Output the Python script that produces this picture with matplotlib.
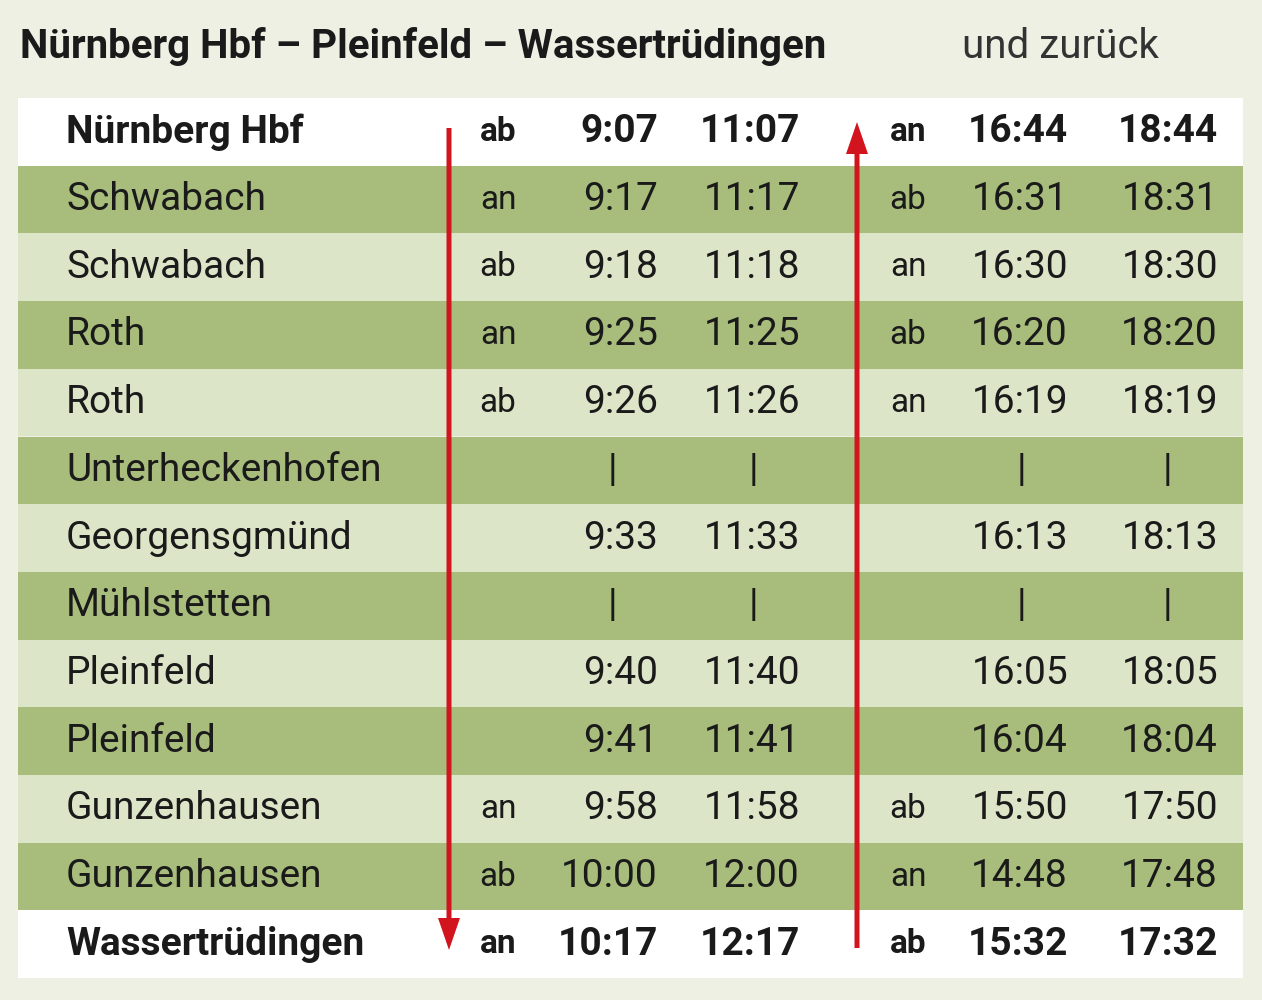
import matplotlib
matplotlib.use("Agg")
import matplotlib.pyplot as plt
from matplotlib.patches import Rectangle, FancyArrow

plt.rcParams["font.family"] = ["Roboto", "DejaVu Sans"]

BG = "#eef0e4"
DARK = "#a8bd7c"
LIGHT = "#dde5c8"
RED = "#d2141e"
TEXT = "#1a1a1a"

stations = ["Nürnberg Hbf", "Schwabach", "Schwabach", "Roth", "Roth",
            "Unterheckenhofen", "Georgensgmünd", "Mühlstetten", "Pleinfeld",
            "Pleinfeld", "Gunzenhausen", "Gunzenhausen", "Wassertrüdingen"]
dir_out = ["ab", "an", "ab", "an", "ab", "", "", "", "", "", "an", "ab", "an"]
train1 = ["9:07", "9:17", "9:18", "9:25", "9:26", "|", "9:33", "|", "9:40",
          "9:41", "9:58", "10:00", "10:17"]
train2 = ["11:07", "11:17", "11:18", "11:25", "11:26", "|", "11:33", "|",
          "11:40", "11:41", "11:58", "12:00", "12:17"]
dir_back = ["an", "ab", "an", "ab", "an", "", "", "", "", "", "ab", "an", "ab"]
train3 = ["16:44", "16:31", "16:30", "16:20", "16:19", "|", "16:13", "|",
          "16:05", "16:04", "15:50", "14:48", "15:32"]
train4 = ["18:44", "18:31", "18:30", "18:20", "18:19", "|", "18:13", "|",
          "18:05", "18:04", "17:50", "17:48", "17:32"]

fig = plt.figure(figsize=(12.62, 10), dpi=100, facecolor=BG)
ax = fig.add_axes([0, 0, 1, 1])
ax.set_xlim(0, 1262)
ax.set_ylim(1000, 0)
ax.axis("off")

ax.text(20, 47, "Nürnberg Hbf – Pleinfeld – Wassertrüdingen", fontsize=29,
        fontweight="bold", color=TEXT, va="center", ha="left")
ax.text(962, 47, "und zurück", fontsize=29, color="#333333", va="center", ha="left")

top, h = 98, 67.7
n = len(stations)
fs = 28
for i in range(n):
    y0 = top + i * h
    if i == 0 or i == n - 1:
        c = "white"
    else:
        c = DARK if i % 2 == 1 else LIGHT
    ax.add_patch(Rectangle((18, y0), 1225, h, color=c, lw=0))
    yc = y0 + h / 2
    bold = "bold" if i in (0, n - 1) else "normal"
    ax.text(66, yc, stations[i], fontsize=fs, fontweight=bold, color=TEXT, va="center")
    ax.text(498, yc, dir_out[i], fontsize=fs - 4, fontweight=bold, color=TEXT, va="center", ha="center")
    ax.text(908, yc, dir_back[i], fontsize=fs - 4, fontweight=bold, color=TEXT, va="center", ha="center")
    for vals, xr, xm in ((train1, 658, 612), (train2, 800, 753),
                         (train3, 1068, 1021), (train4, 1218, 1167)):
        v = vals[i]
        if v == "|":
            ax.text(xm, yc, "|", fontsize=fs, color=TEXT, va="center", ha="center")
        else:
            ax.text(xr, yc, v, fontsize=fs, fontweight=bold, color=TEXT, va="center", ha="right")

ax.add_patch(FancyArrow(449, 128, 0, 822, width=5, head_width=22, head_length=32,
                        length_includes_head=True, color=RED, lw=0))
ax.add_patch(FancyArrow(857, 948, 0, -826, width=5, head_width=22, head_length=32,
                        length_includes_head=True, color=RED, lw=0))

fig.savefig("out.png", dpi=100, facecolor=BG)
